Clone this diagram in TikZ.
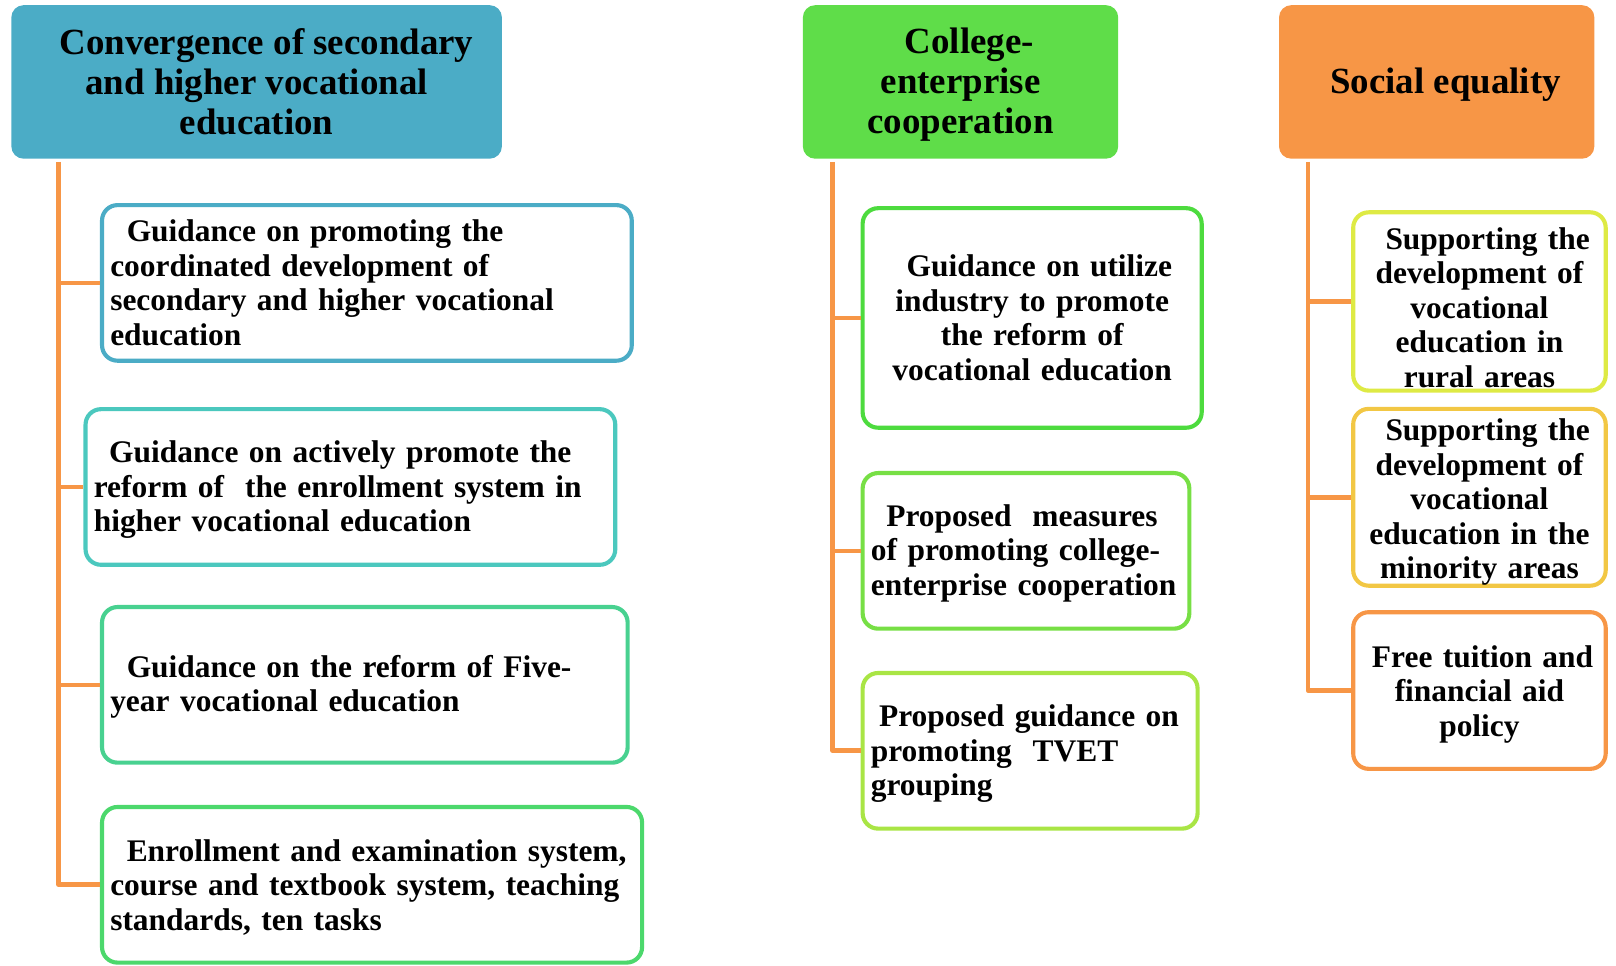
\documentclass[tikz,border=0pt]{standalone}
\usepackage{fontspec}
\setmainfont{Liberation Serif}
\definecolor{hdblue}{HTML}{4BACC6}
\definecolor{hdgreen}{HTML}{5FDD49}
\definecolor{hdorange}{HTML}{F79646}
\definecolor{bdA}{HTML}{4BACC6}
\definecolor{bdB}{HTML}{4BC8BE}
\definecolor{bdC}{HTML}{48D190}
\definecolor{bdD}{HTML}{4CD86C}
\definecolor{bdE}{HTML}{4DDB3E}
\definecolor{bdF}{HTML}{77DF45}
\definecolor{bdG}{HTML}{A9E545}
\definecolor{bdH}{HTML}{DEEA44}
\definecolor{bdI}{HTML}{F2C744}
\definecolor{bdJ}{HTML}{F79646}
% invisible strut that lowers a text block by half its extra height
\newcommand{\firststrut}[1]{\rule{0pt}{#1}}
\tikzset{
  header/.style={rectangle, rounded corners=12pt, inner sep=0pt, align=center,
    font=\fontsize{35.8pt}{39pt}\selectfont\bfseries},
  leaf/.style={rectangle, rounded corners=15pt, draw, line width=4pt, fill=white,
    inner xsep=8pt, inner ysep=0pt,
    font=\fontsize{30.5pt}{33.5pt}\selectfont\bfseries},
  trunk/.style={draw=hdorange, line width=4.5pt, line join=round}
}
\begin{document}
\begin{tikzpicture}[x=1pt,y=-1pt]
\useasboundingbox (0,0) rectangle (1568,937);

% column headers
\node[header, fill=hdblue, minimum width=476pt, minimum height=149pt] (H1) at (249,79.5)
  {\hspace*{19pt}Convergence of secondary\\ and higher vocational\\ education};
\node[header, fill=hdgreen, minimum width=306pt, minimum height=149pt] (H2) at (932,79.5)
  {\firststrut{30pt}\hspace*{17pt}College-\\ enterprise\\ cooperation};
\node[header, fill=hdorange, minimum width=306pt, minimum height=149pt] (H3) at (1394,79.5)
  {\firststrut{30pt}\hspace*{17pt}Social equality};

% first column
\node[leaf, draw=bdA, minimum width=514pt, minimum height=151pt, text width=498pt, align=left] (B1) at (356,274.5)
  {\hspace*{16pt}Guidance on promoting the\\ coordinated development of\\ secondary and higher vocational\\ education};
\node[leaf, draw=bdB, minimum width=514pt, minimum height=151pt, text width=498pt, align=left] (B2) at (340,472.5)
  {\firststrut{27pt}\hspace*{15pt}Guidance on actively promote the\\ reform of\ \ the enrollment system in\\ higher vocational education};
\node[leaf, draw=bdC, minimum width=510pt, minimum height=151pt, text width=494pt, align=left] (B3) at (354,664.5)
  {\firststrut{25pt}\hspace*{16pt}Guidance on the reform of Five-\\ year vocational education};
\node[leaf, draw=bdD, minimum width=524pt, minimum height=151pt, text width=508pt, align=left] (B4) at (361,858.5)
  {\firststrut{26pt}\hspace*{16pt}Enrollment and examination system,\\ course and textbook system, teaching\\ standards, ten tasks};

% second column
\node[leaf, draw=bdE, minimum width=329pt, minimum height=213pt, text width=313pt, align=center] (C1) at (1001.5,308.5)
  {\hspace*{14pt}Guidance on utilize\\ industry to promote\\ the reform of\\ vocational education};
\node[leaf, draw=bdF, minimum width=317pt, minimum height=151pt, text width=301pt, align=left] (C2) at (995.5,534.5)
  {\firststrut{26pt}\hspace*{15pt}Proposed\ \ measures\\ of promoting college-\\ enterprise cooperation};
\node[leaf, draw=bdG, minimum width=325pt, minimum height=151pt, text width=309pt, align=left] (C3) at (999.5,728.5)
  {\firststrut{27pt}\hspace*{8pt}Proposed guidance on\\ promoting\ \ TVET\\ grouping};

% third column
\node[leaf, draw=bdH, minimum width=245pt, minimum height=173pt, text width=229pt, align=center] (D1) at (1435.5,292.5)
  {\firststrut{33pt}\hspace*{16pt}Supporting the\\ development of\\ vocational\\ education in\\ rural areas};
\node[leaf, draw=bdI, minimum width=245pt, minimum height=165pt, text width=229pt, align=center] (D2) at (1435.5,482.5)
  {\firststrut{31pt}\hspace*{16pt}Supporting the\\ development of\\ vocational\\ education in the\\ minority areas};
\node[leaf, draw=bdJ, minimum width=245pt, minimum height=152pt, text width=229pt, align=center] (D3) at (1435.5,670)
  {\firststrut{28pt}\hspace*{6pt}Free tuition and\\ financial aid\\ policy};

% trunk lines and branches
\coordinate (T1) at (57,157);
\coordinate (T2) at (808,157);
\coordinate (T3) at (1269,157);
\draw[trunk] (T1) |- (B4.west);
\draw[trunk] (T1 |- B1.west) -- (B1.west);
\draw[trunk] (T1 |- B2.west) -- (B2.west);
\draw[trunk] (T1 |- B3.west) -- (B3.west);
\draw[trunk] (T2) |- (C3.west);
\draw[trunk] (T2 |- C1.west) -- (C1.west);
\draw[trunk] (T2 |- C2.west) -- (C2.west);
\draw[trunk] (T3) |- (D3.west);
\draw[trunk] (T3 |- D1.west) -- (D1.west);
\draw[trunk] (T3 |- D2.west) -- (D2.west);
\end{tikzpicture}
\end{document}
